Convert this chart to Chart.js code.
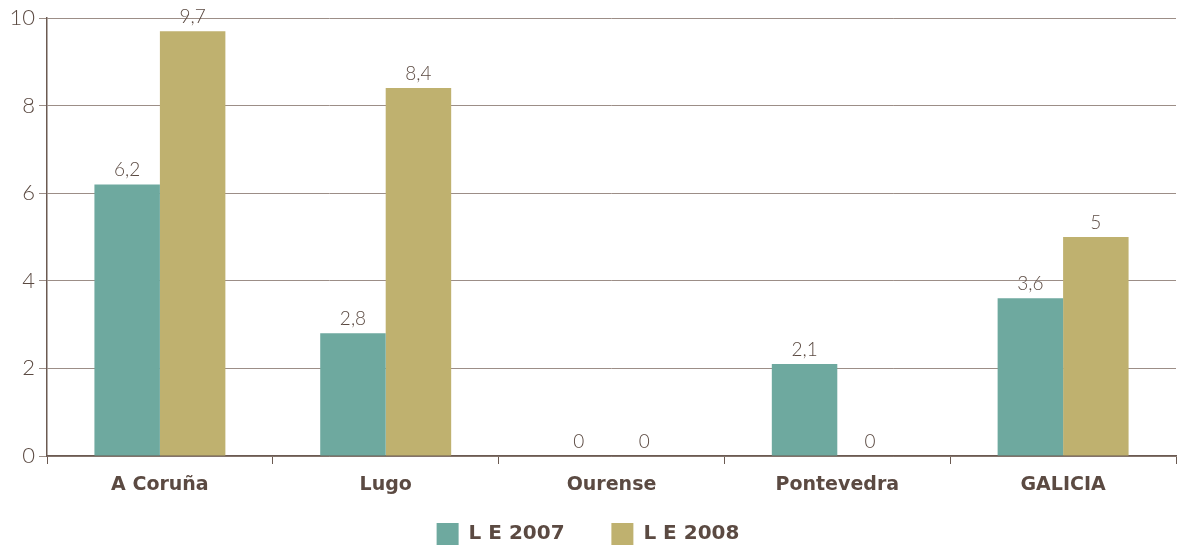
<!DOCTYPE html>
<html>
<head>
<meta charset="utf-8">
<script src="https://cdn.jsdelivr.net/npm/chart.js@4"></script>
<style>
  html, body { margin: 0; padding: 0; background: #fff; }
  #wrap { width: 1183px; height: 549px; }
</style>
</head>
<body>
<div id="wrap"><canvas id="chart"></canvas></div>
<script>
// ==================== 데이터 ====================
const categories = ['A Coruña', 'Lugo', 'Ourense', 'Pontevedra', 'GALICIA'];
const seriesNames = ['L E 2007', 'L E 2008'];
const values2007 = [6.2, 2.8, 0, 2.1, 3.6];
const values2008 = [9.7, 8.4, 0, 0, 5];
const yTicks = [0, 2, 4, 6, 8, 10];

const TEXT = '#5b4a42';
const fmt = v => String(v).replace('.', ',');

// value labels above each bar
const valueLabels = {
  id: 'valueLabels',
  afterDatasetsDraw(chart) {
    const ctx = chart.ctx;
    ctx.save();
    ctx.font = '300 19px Lato';
    ctx.fillStyle = TEXT;
    ctx.textAlign = 'center';
    ctx.textBaseline = 'alphabetic';
    chart.data.datasets.forEach((ds, i) => {
      chart.getDatasetMeta(i).data.forEach((bar, j) => {
        ctx.fillText(fmt(ds.data[j]), bar.x, bar.y - 8);
      });
    });
    ctx.restore();
  }
};

new Chart(document.getElementById('chart'), {
  type: 'bar',
  data: {
    labels: categories,
    datasets: [
      { label: seriesNames[0], data: values2007, backgroundColor: '#6ea99f', categoryPercentage: 0.58, barPercentage: 1 },
      { label: seriesNames[1], data: values2008, backgroundColor: '#bfb16f', categoryPercentage: 0.58, barPercentage: 1 }
    ]
  },
  options: {
    responsive: true, maintainAspectRatio: false, animation: false,
    layout: { padding: { top: 18, right: 7, bottom: -6, left: 0 } },
    plugins: {
      legend: {
        position: 'bottom',
        labels: {
          color: TEXT, font: { family: 'DejaVu Sans', size: 20, weight: 'bold' },
          boxWidth: 22, boxHeight: 22, padding: 5,
          // extra gap after the first item
          generateLabels: chart => Chart.defaults.plugins.legend.labels.generateLabels(chart)
            .map((l, i) => Object.assign(l, { text: i === 0 ? l.text + '      ' : l.text }))
        }
      },
      tooltip: { enabled: false }
    },
    scales: {
      x: {
        grid: { drawOnChartArea: false, color: '#6b5a52', tickLength: 8, offset: true },
        border: { color: '#6b5a52', width: 1.5 },
        ticks: { color: TEXT, font: { family: 'DejaVu Sans', size: 19, weight: 'bold' }, padding: 10 },
        afterFit: s => { s.height = 62; }
      },
      y: {
        min: 0, max: 10,
        afterBuildTicks: s => { s.ticks = yTicks.map(v => ({ value: v })); },
        grid: { color: '#9c8e87', tickLength: 8 },
        border: { color: '#6b5a52', width: 1.5 },
        ticks: { color: TEXT, font: { family: 'Lato', size: 22, weight: '300' }, padding: 4 },
        afterFit: s => { s.width = 47; }
      }
    }
  },
  plugins: [valueLabels]
});
</script>
</body>
</html>
